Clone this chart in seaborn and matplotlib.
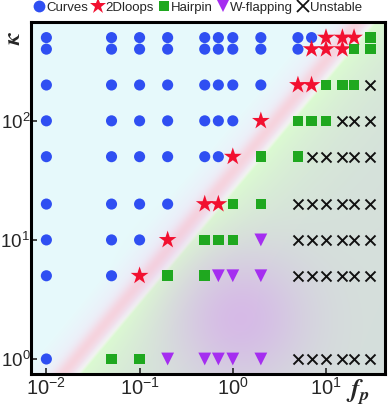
import numpy as np
import pandas as pd
import matplotlib
matplotlib.use("Agg")
import matplotlib.pyplot as plt
import seaborn as sns
from matplotlib.lines import Line2D

# ---------------- data ----------------
curves_fp = [0.01, 0.05, 0.1, 0.2, 0.5, 0.7, 1, 2, 5, 7,
             0.01, 0.05, 0.1, 0.2, 0.5, 0.7, 1, 2, 5,
             0.01, 0.05, 0.1, 0.2, 0.5, 0.7, 1, 2,
             0.01, 0.05, 0.1, 0.2, 0.5, 0.7, 1,
             0.01, 0.05, 0.1, 0.2, 0.5, 0.7,
             0.01, 0.05, 0.1, 0.2,
             0.01, 0.05, 0.1,
             0.01, 0.05,
             0.01]
curves_kappa = [500] * 10 + [400] * 9 + [200] * 8 + [100] * 7 + [50] * 6 + [20] * 4 + [10] * 3 + [5] * 2 + [1]

loops_fp = [10, 15, 20, 7, 10, 15, 5, 7, 2, 1, 0.5, 0.7, 0.2, 0.1]
loops_kappa = [500, 500, 500, 400, 400, 400, 200, 200, 100, 50, 20, 20, 10, 5]

hairpin_fp = [30, 20, 30, 10, 15, 20, 5, 7, 10, 2, 5, 1, 2, 0.5, 0.7, 1, 0.2, 0.5, 0.05, 0.1]
hairpin_kappa = [500, 400, 400, 200, 200, 200, 100, 100, 100, 50, 50, 20, 20, 10, 10, 10, 5, 5, 1, 1]

wflap_fp = [2, 0.7, 1, 2, 0.2, 0.5, 0.7, 1, 2]
wflap_kappa = [10, 5, 5, 5, 1, 1, 1, 1, 1]

unstable_fp = [30, 15, 20, 30, 7, 10, 15, 20, 30,
               5, 7, 10, 15, 20, 30,
               5, 7, 10, 15, 20, 30,
               5, 7, 10, 15, 20, 30,
               5, 7, 10, 15, 20, 30]
unstable_kappa = [200, 100, 100, 100, 50, 50, 50, 50, 50] + [20] * 6 + [10] * 6 + [5] * 6 + [1] * 6

regimes = ["Curves", "2Dloops", "Hairpin", "W-flapping", "Unstable"]
x_ticks = [1e-2, 1e-1, 1e0, 1e1]
y_ticks = [1e0, 1e1, 1e2]

df = pd.concat([
    pd.DataFrame({"fp": curves_fp, "kappa": curves_kappa, "regime": "Curves"}),
    pd.DataFrame({"fp": loops_fp, "kappa": loops_kappa, "regime": "2Dloops"}),
    pd.DataFrame({"fp": hairpin_fp, "kappa": hairpin_kappa, "regime": "Hairpin"}),
    pd.DataFrame({"fp": wflap_fp, "kappa": wflap_kappa, "regime": "W-flapping"}),
    pd.DataFrame({"fp": unstable_fp, "kappa": unstable_kappa, "regime": "Unstable"}),
], ignore_index=True)

# ---------------- style ----------------
sns.set_theme(style="white")
plt.rcParams["mathtext.fontset"] = "cm"
plt.rcParams["font.family"] = ["Liberation Sans", "DejaVu Sans"]

styles = {
    "Curves": dict(marker="o", color="#2f4ff2", s=64),
    "2Dloops": dict(marker="*", color="#f21030", s=180),
    "Hairpin": dict(marker="s", color="#1fa81f", s=58),
    "W-flapping": dict(marker="v", color="#a52ef0", s=85),
    "Unstable": dict(marker="x", color="#111111", s=52),
}

W, H = 392, 411
fig = plt.figure(figsize=(W / 100, H / 100), dpi=100)
ax_l, ax_r, ax_t, ax_b = 31, 385, 22, 374
ax = fig.add_axes([ax_l / W, 1 - ax_b / H, (ax_r - ax_l) / W, (ax_b - ax_t) / H])

# ---------------- background (decorative gradient) ----------------
nx, ny = ax_r - ax_l, ax_b - ax_t
px = ax_l + np.arange(nx) + 0.5
py = ax_t + np.arange(ny) + 0.5
PX, PY = np.meshgrid(px, py)
p0 = np.array([80.0, 374.0])
p1 = np.array([376.0, 22.0])
dvec = p1 - p0
nrm = np.array([-dvec[1], dvec[0]]) / np.hypot(*dvec)
if nrm[0] < 0:
    nrm = -nrm
d = (PX - p0[0]) * nrm[0] + (PY - p0[1]) * nrm[1]

cyan = np.array([0.905, 0.98, 0.985])
lav = np.array([0.935, 0.925, 0.975])
pink = np.array([0.965, 0.83, 0.87])
white = np.array([0.95, 0.965, 0.94])
green = np.array([0.86, 0.985, 0.82])
gray = np.array([0.835, 0.875, 0.86])
purple = np.array([0.84, 0.68, 0.92])

w_lav = np.clip((d + 45) / 30, 0, 1)[..., None]
base_left = cyan * (1 - w_lav) + lav * w_lav
w_pink = np.exp(-((d + 13) ** 2) / (2 * 5.5 ** 2))[..., None]
base_left = base_left * (1 - w_pink) + pink * w_pink
w_wh = np.clip((d + 6) / 6, 0, 1)[..., None]
base_left = base_left * (1 - w_wh) + white * w_wh
w_g = np.exp(-np.clip(d, 0, None) / 40.0)[..., None]
base_right = gray * (1 - w_g) + green * w_g
edge = np.clip((d + 1.5) / 3.0, 0, 1)[..., None]
img = base_left * (1 - edge) + base_right * edge
r2 = (PX - 240) ** 2 + (PY - 318) ** 2
w_p = (0.75 * np.exp(-r2 / (2 * 48.0 ** 2)))[..., None]
img = img * (1 - w_p) + purple * w_p

ax.imshow(img, extent=(0, 1, 0, 1), transform=ax.transAxes, origin="upper",
          aspect="auto", interpolation="bilinear", zorder=0)

# ---------------- scatter ----------------
for reg in regimes:
    st = styles[reg]
    sub = df[df["regime"] == reg]
    kw = dict(linewidth=1.4) if st["marker"] == "x" else dict(linewidth=0, edgecolor="none")
    sns.scatterplot(data=sub, x="fp", y="kappa", ax=ax, marker=st["marker"],
                    color=st["color"], s=st["s"], zorder=3, legend=False, **kw)

ax.set_xscale("log")
ax.set_yscale("log")
ax.set_xlim(10 ** -2.165, 10 ** 1.633)
ax.set_ylim(10 ** -0.126, 10 ** 2.83)
ax.set_xticks(x_ticks)
ax.set_yticks(y_ticks)
ax.minorticks_off()
ax.tick_params(axis="both", which="major", direction="in", length=4, width=1.2,
               bottom=True, left=True, top=False, right=False)
ax.tick_params(axis="y", pad=0.5, labelsize=13.5)
ax.tick_params(axis="x", pad=2, labelsize=14.5)
for sp in ax.spines.values():
    sp.set_linewidth(2.2)
    sp.set_color("black")
    sp.set_visible(True)

ax.set_xlabel(r"$\mathbfit{f}_{\mathbfit{p}}$", fontsize=19, math_fontfamily="stix")
ax.xaxis.set_label_coords(0.925, -0.01)
ax.set_ylabel(r"$\mathbfit{\kappa}$", fontsize=17, math_fontfamily="stix", rotation=90)
ax.yaxis.set_label_coords(-0.018, 0.955)

# ---------------- legend ----------------
handles = []
for reg in regimes:
    st = styles[reg]
    if st["marker"] == "x":
        h = Line2D([], [], marker="x", linestyle="none", color=st["color"],
                   markersize=8, markeredgewidth=1.3)
    else:
        ms = {"o": 8.5, "*": 12, "s": 7.5, "v": 9}[st["marker"]]
        h = Line2D([], [], marker=st["marker"], linestyle="none", color=st["color"],
                   markersize=ms, markeredgewidth=0)
    handles.append(h)
fig.legend(handles, regimes, loc="upper center", bbox_to_anchor=(0.505, 1.012),
           ncol=5, frameon=False, fontsize=9.5, handlelength=0.8, handletextpad=0.1,
           columnspacing=0.4, borderaxespad=0.1)

fig.savefig("out.png", dpi=100)
